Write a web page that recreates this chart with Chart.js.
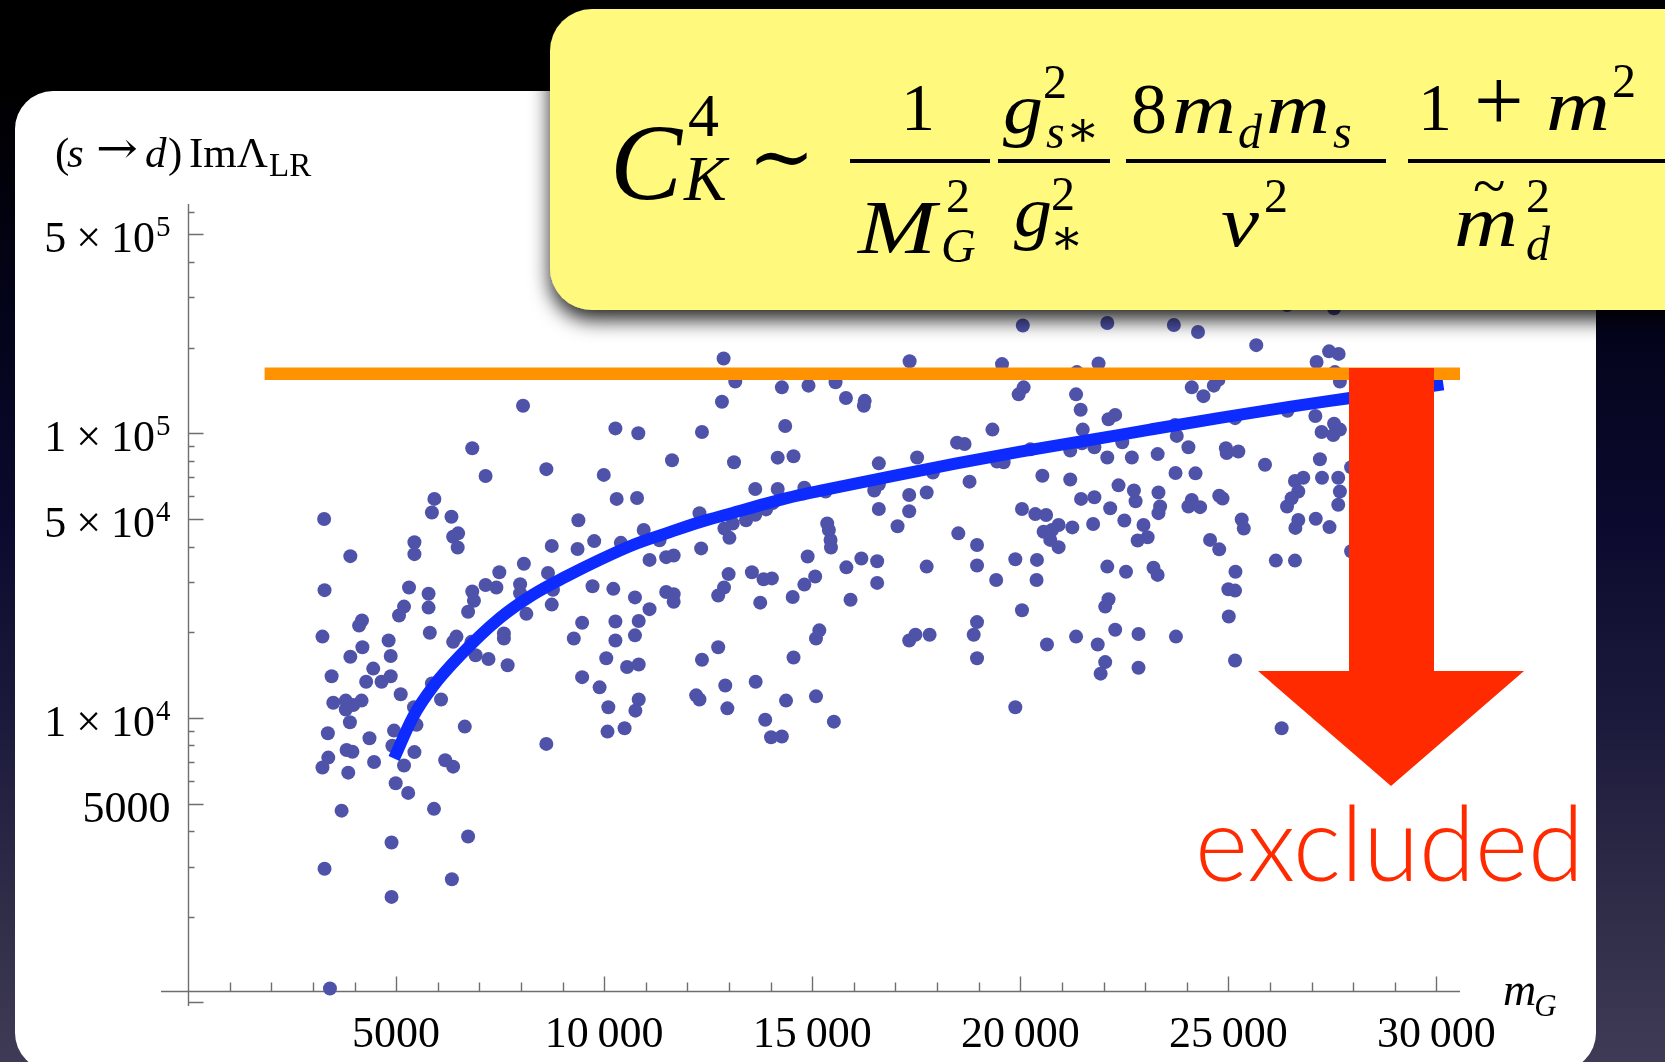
<!DOCTYPE html>
<html>
<head>
<meta charset="utf-8">
<script src="https://cdn.jsdelivr.net/npm/chart.js@4.4.1/dist/chart.umd.min.js"></script>
<style>
  html, body { margin: 0; padding: 0; }
  body {
    width: 1665px; height: 1062px; overflow: hidden; position: relative;
    background: linear-gradient(to bottom, #000 0px, #000 90px, #04041c 330px, #0b0a2e 520px, #1c1a3c 720px, #2f2c48 900px, #3f3b57 1062px);
  }
  #panel { position: absolute; left: 15px; top: 91px; width: 1581px; height: 980px; background: #fff; border-radius: 38px; }
  #c { position: absolute; left: 0; top: 0; }
  #ov { position: absolute; left: 0; top: 0; }
  #ov text { font-family: "Liberation Serif", "Times New Roman", serif; fill: #000; }
  #ov text.it { font-style: italic; }
  #ov text.sym { font-family: "DejaVu Serif", serif; }
  #ov text.gill { font-family: Lato, "Open Sans", sans-serif; font-weight: 300; fill: #ff2a00; }
</style>
</head>
<body>
<div id="panel"></div>
<canvas id="c" width="1665" height="1062"></canvas>
<svg id="ov" width="1665" height="1062" xmlns="http://www.w3.org/2000/svg">
  <defs>
    <filter id="sh" x="-5%" y="-20%" width="110%" height="160%">
      <feDropShadow dx="0" dy="10" stdDeviation="10" flood-color="#000" flood-opacity="0.85"/>
    </filter>
  </defs>
  <text x="55" y="167" font-size="43">(</text>
  <text class="it" x="67" y="167" font-size="43">s</text>
  <text class="sym" x="96" y="163" font-size="44" textLength="42" lengthAdjust="spacingAndGlyphs">→</text>
  <text class="it" x="145" y="167" font-size="43">d</text>
  <text x="168" y="167" font-size="43">)</text>
  <text x="189" y="167" font-size="43">ImΛ</text>
  <text x="269" y="176" font-size="33">LR</text>

  <rect x="550" y="9" width="1200" height="301" rx="42" fill="#fffa7d" filter="url(#sh)"/>

  <text class="it" x="610" y="199" font-size="108">C</text>
  <text x="688" y="136" font-size="62">4</text>
  <text class="it" x="684" y="200" font-size="64">K</text>
  <text class="sym" x="748" y="184" font-size="80">∼</text>

  <text x="918" y="130" font-size="68" text-anchor="middle">1</text>
  <rect x="850" y="159" width="140" height="4" fill="#000"/>
  <text class="it" x="858" y="253" font-size="76" textLength="78" lengthAdjust="spacingAndGlyphs">M</text>
  <text x="946" y="212" font-size="48">2</text>
  <text class="it" x="941" y="262" font-size="48">G</text>

  <text class="it" x="1003" y="133" font-size="72" textLength="40" lengthAdjust="spacingAndGlyphs">g</text>
  <text x="1043" y="98" font-size="48">2</text>
  <text class="it" x="1046" y="148" font-size="48">s</text>
  <text class="sym" x="1066" y="146" font-size="50">∗</text>
  <rect x="998" y="159" width="112" height="4" fill="#000"/>
  <text class="it" x="1014" y="236" font-size="72" textLength="38" lengthAdjust="spacingAndGlyphs">g</text>
  <text x="1051" y="210" font-size="48">2</text>
  <text class="sym" x="1050" y="254" font-size="50">∗</text>

  <text x="1131" y="133" font-size="72">8</text>
  <text class="it" x="1172" y="133" font-size="72" textLength="64" lengthAdjust="spacingAndGlyphs">m</text>
  <text class="it" x="1238" y="148" font-size="48">d</text>
  <text class="it" x="1266" y="133" font-size="72" textLength="64" lengthAdjust="spacingAndGlyphs">m</text>
  <text class="it" x="1333" y="148" font-size="48">s</text>
  <rect x="1126" y="159" width="260" height="4" fill="#000"/>
  <text class="it" x="1221" y="246" font-size="72" textLength="38" lengthAdjust="spacingAndGlyphs">v</text>
  <text x="1264" y="212" font-size="48">2</text>

  <text x="1418" y="130" font-size="68">1</text>
  <text x="1474" y="130" font-size="88">+</text>
  <text class="it" x="1546" y="130" font-size="72" textLength="64" lengthAdjust="spacingAndGlyphs">m</text>
  <text x="1612" y="97" font-size="48">2</text>
  <rect x="1408" y="159" width="280" height="4" fill="#000"/>
  <text class="it" x="1454" y="246" font-size="72" textLength="64" lengthAdjust="spacingAndGlyphs">m</text>
  <text x="1473" y="206" font-size="60">~</text>
  <text x="1526" y="212" font-size="48">2</text>
  <text class="it" x="1526" y="260" font-size="48">d</text>

  <polygon points="1349,368 1434,368 1434,671 1524,671 1391,786 1258,671 1349,671" fill="#ff2a00"/>
  <text class="gill" x="1195" y="881" font-size="104" textLength="389" lengthAdjust="spacingAndGlyphs">excluded</text>
</svg>

<script>
// scatter points: m_G and Im Lambda_LR (s -> d)
const mG = [
  12870, 13150, 14270, 14910, 12830, 8050, 10270, 10820, 12350, 14350,
  6830, 11630, 13120, 14170, 14550, 7150, 8610, 9990, 5920, 5860,
  6330, 3270, 10300, 10790, 13630, 14170, 14810, 9380, 12290,
  12890, 13090, 13410, 13630, 13890, 14050, 13010,
  6490, 6370, 6480, 5440, 5440, 3900, 10950, 10400, 9760, 9360, 8740, 11330, 12330, 11090, 11490, 11670, 14890,
  8070, 7480, 8650, 7150, 7410, 7980, 7980, 6830, 6870, 6730, 8130, 8740, 8770, 9720, 10220, 10740, 11090, 11490, 11670, 11670, 12990, 12880, 12740, 13550, 13830, 14030, 13750, 14530, 14810, 15070,
  3280, 5310, 5780, 5780, 5190, 5070, 4180, 4110, 3230, 4820, 5810, 6450, 6370, 7590, 7590, 9470, 9270, 10270, 10270, 10830, 10740, 4190, 12740, 15090, 15170, 6810,
  3900, 4870, 4450, 3450, 4280, 4650, 4870, 5110, 3490, 3790, 3970, 4170, 3790, 3890, 3360, 4360, 4950, 4910, 5430, 5490, 5860, 6080, 6650, 6910, 7220, 7680,
  3810, 3950, 3370, 3230, 4470, 3850, 5440, 5190, 6180, 6370, 4990, 5290, 3690, 5910, 6730, 4890, 3280, 6340, 4890, 3410,
  8610, 10050, 10550, 10830, 9470, 9890, 10830, 10750, 10100, 10080, 10490, 12350, 12210, 12290, 12910, 12960, 13640, 14370, 13870, 14010, 14270, 14550, 15090,
  18960, 22040, 21930, 22840, 25160, 19880, 15520, 26280,
  20060, 22090, 23690, 24270, 25670, 26410, 27540, 27420, 27650, 27120, 27560,
  17340, 19560, 21880, 21360, 15560, 15810, 16260, 16240, 20080, 19960, 21340, 21450, 24120, 24650, 24400, 24760, 27680,
  22280, 22120, 25160, 26420, 27090, 27540, 27240, 27520, 27680, 23720, 23760, 21500, 19330, 18480, 18660, 20240, 21200, 21480, 21780, 22450, 22090, 22680, 23300, 24040, 24940, 25240, 24960, 25880, 27200,
  16600, 17520, 17900, 19440, 19600, 15320, 16600, 16490, 17330, 17750, 18780, 20530, 21200, 23730, 24210, 27250, 26600, 26800, 27640, 22360, 22730, 22770, 23320, 21460, 21780, 22160, 23360, 23320, 24040, 24120, 24320, 24780, 24860, 26680, 26520, 26410, 27680, 27640,
  16600, 17330, 20040, 20360, 20620, 20920, 20760, 20560, 20720, 20920, 21250, 21750, 22500, 22960, 23060, 22820, 25320, 25370, 26680, 26610, 27100, 27430, 15360, 15400, 15440, 15450, 17050, 18510, 18960, 24560, 24780,
  16180, 16560, 15820, 16560, 17750, 18960, 19880, 20400, 20390, 19420, 22090, 22540, 23200, 23300, 25170, 26140, 26600, 25000, 25160, 25010, 15920, 20040, 22120, 22040, 18960, 18880, 17480, 17330, 17820, 21340, 20640, 21860, 22280, 22840, 23740,
  27950, 27950
];
const imLambda = [
  183000, 152000, 145000, 147000, 129000, 125000, 104000, 100000, 101000, 106000,
  88600, 80400, 79100, 82100, 83000, 70800, 74800, 71400, 58800, 52700,
  50900, 50000, 58800, 59200, 63700, 63700, 64400, 49500, 52400,
  46300, 48200, 49500, 51700, 54000, 56800, 42900,
  44500, 43300, 39700, 41400, 37600, 37000, 45700, 41200, 41800, 39200, 40200, 42100, 39400, 35900, 36700, 37200, 36900,
  34800, 32500, 32300, 29300, 28700, 29500, 27400, 27800, 25800, 23600, 23200, 25000, 28200, 29000, 28400, 26500, 24100, 27700, 27200, 25600, 32000, 28700, 26900, 32500, 30700, 30900, 25400, 26600, 29400, 31400,
  28100, 28700, 27300, 24400, 24600, 22900, 22000, 21100, 19300, 18700, 19900, 19300, 18500, 19800, 19000, 21600, 19000, 21800, 18700, 21900, 19500, 17700, 17700, 19000, 20300, 18500,
  16400, 16500, 14900, 14000, 13400, 13400, 14000, 12100, 11300, 11500, 11100, 11500, 10700, 9650, 8830, 8480, 9020, 7980, 10900, 9450, 13200, 11600, 9320, 16600, 16100, 15300,
  7710, 7600, 7250, 6690, 7000, 6420, 7580, 6800, 7100, 6740, 5890, 5450, 4720, 4790, 3830, 3650, 2950, 2710, 2350, 1120,
  8100, 16200, 15100, 15400, 13900, 12800, 11600, 10600, 10900, 8950, 9200, 16000, 12000, 11600, 13000, 10800, 13400, 11500, 9850, 8550, 8600, 16300, 11900,
  16200, 15700, 14300, 15000, 15900, 10900, 9700, 9200,
  239000, 244000, 240000, 227000, 204000, 282000, 275000, 194000, 190000, 178000, 164000,
  179000, 175000, 176000, 164000, 151000, 133000, 130000, 125000, 145000, 137000, 137000, 121000, 145000, 147000, 135000, 154000, 152000,
  116000, 112000, 113000, 120000, 115000, 108000, 101000, 98600, 103000, 107000, 97900, 103000, 103000, 92700, 91700, 87800, 86900, 92200, 89300, 93000, 82200, 82200, 84500, 89300, 88600, 86300, 85200, 77500, 81000,
  78400, 82200, 72800, 79500, 79100, 62400, 66200, 62900, 60700, 61900, 67600, 70900, 68800, 72500, 72300, 69800, 68000, 69800, 69800, 65600, 62900, 57700, 61900, 58800, 59600, 54500, 55300, 52400, 55300, 58300, 55000, 60300, 59000, 62400, 59100, 55300, 62400, 56100,
  54200, 53200, 54200, 52000, 51600, 47600, 45700, 45100, 42200, 39800, 46700, 48000, 49400, 47600, 43100, 42000, 49800, 46300, 49600, 46500, 50100, 46800, 48200, 45700, 42200, 39700, 47100, 44500, 40500, 42200, 39100,
  36300, 35500, 33800, 29800, 34000, 34300, 36100, 35900, 30500, 30500, 34000, 32600, 33700, 31800, 32600, 35700, 35700, 28300, 28000, 22700, 26000, 23900, 26100, 24600, 21700, 19600, 19600, 18700, 19600, 19300, 18100, 18100, 20400, 19700, 19300,
  76000, 38500
];

// fitted curve (blue)
const curveMG = [4950, 5410, 5890, 6530, 7490, 8290, 9090, 9890, 10690, 11490, 12290, 13090, 13890, 14690, 15235, 16835, 18435, 20000, 21635, 23117, 24835, 26500, 27843, 30166];
const curveIm = [7200, 10100, 12900, 16500, 22400, 27100, 31400, 35900, 40500, 44500, 48700, 52500, 56600, 60600, 63000, 70300, 78200, 86200, 94500, 103000, 113500, 124000, 132500, 148600];

// bound (orange)
const boundMG = [1840, 30690];
const boundIm = [162000, 162000];

// axes
const xMin = -650, xMax = 30566;
const yMin = 972, yMax = 639000;
const xAxisCrossing = 1100;
const xTickValues = [5000, 10000, 15000, 20000, 25000, 30000];
const xTickLabels = ['5000', '10\u2009000', '15\u2009000', '20\u2009000', '25\u2009000', '30\u2009000'];
const xMinorTicks = [1000, 2000, 3000, 4000, 5000, 6000, 7000, 8000, 9000, 10000, 11000, 12000, 13000, 14000, 15000,
  16000, 17000, 18000, 19000, 20000, 21000, 22000, 23000, 24000, 25000, 26000, 27000, 28000, 29000, 30000];
const yTickValues = [5000, 10000, 50000, 100000, 500000];
const yTickLabels = ['5000', '1×10^4', '5×10^4', '1×10^5', '5×10^5'];
const yMajorTicks = [1000, 5000, 10000, 50000, 100000, 500000];
const yMinorTicks = [1000, 2000, 3000, 4000, 5000, 6000, 7000, 8000, 9000,
  10000, 20000, 30000, 40000, 50000, 60000, 70000, 80000, 90000,
  100000, 200000, 300000, 400000, 500000, 600000];

const serif = '"Liberation Serif", "Times New Roman", serif';

const mmaAxes = {
  id: 'mmaAxes',
  beforeDatasetsDraw(chart) {
    const { ctx, chartArea: a } = chart;
    const xs = chart.scales.x, ys = chart.scales.y;
    const ax = Math.round(xs.getPixelForValue(0)) + 0.5;
    const ay = Math.round(ys.getPixelForValue(xAxisCrossing)) + 0.5;
    ctx.save();
    ctx.strokeStyle = '#6e6e6e';
    ctx.lineWidth = 1.4;
    ctx.beginPath();
    ctx.moveTo(a.left, ay); ctx.lineTo(a.right, ay);
    ctx.moveTo(ax, a.top); ctx.lineTo(ax, a.bottom);
    yMinorTicks.forEach(v => {
      const py = Math.round(ys.getPixelForValue(v)) + 0.5;
      const len = yMajorTicks.includes(v) ? 15 : 6;
      ctx.moveTo(ax, py); ctx.lineTo(ax + len, py);
    });
    xMinorTicks.forEach(v => {
      const px = Math.round(xs.getPixelForValue(v)) + 0.5;
      const len = xTickValues.includes(v) ? 15 : 9;
      ctx.moveTo(px, ay); ctx.lineTo(px, ay - len);
    });
    ctx.stroke();

    ctx.fillStyle = '#000';
    ctx.textBaseline = 'alphabetic';
    ctx.font = '44px ' + serif;
    ctx.textAlign = 'center';
    xTickValues.forEach((v, i) => ctx.fillText(xTickLabels[i], xs.getPixelForValue(v), ay + 55));

    ctx.textAlign = 'right';
    const right = ax - 18;
    yTickValues.forEach((v, i) => {
      const py = ys.getPixelForValue(v);
      const parts = yTickLabels[i].split('^');
      if (parts.length === 1) {
        ctx.font = '44px ' + serif;
        ctx.fillText(parts[0], right, py + 18);
        return;
      }
      ctx.font = '29px ' + serif;
      ctx.fillText(parts[1], right, py + 2);
      let r = right - ctx.measureText(parts[1]).width - 1;
      ctx.font = '44px ' + serif;
      const [mant, ten] = parts[0].split('×');
      ctx.fillText(ten, r, py + 18);
      r -= ctx.measureText(ten).width + 10;
      ctx.fillText('×', r, py + 18);
      r -= ctx.measureText('×').width + 10;
      ctx.fillText(mant, r, py + 18);
    });

    ctx.textAlign = 'left';
    ctx.font = 'italic 46px ' + serif;
    ctx.fillText('m', a.right + 43, ay + 13);
    const mw = ctx.measureText('m').width;
    ctx.font = 'italic 31px ' + serif;
    ctx.fillText('G', a.right + 43 + mw - 2, ay + 24);
    ctx.restore();
  }
};

new Chart(document.getElementById('c').getContext('2d'), {
  type: 'scatter',
  data: {
    datasets: [
      {
        type: 'line',
        data: boundMG.map((x, i) => ({ x, y: boundIm[i] })),
        borderColor: '#ff9200',
        borderWidth: 12.5,
        pointRadius: 0,
        borderCapStyle: 'butt',
        order: 1
      },
      {
        type: 'line',
        data: curveMG.map((x, i) => ({ x, y: curveIm[i] })),
        borderColor: '#0d2bff',
        borderWidth: 12,
        pointRadius: 0,
        cubicInterpolationMode: 'monotone',
        borderCapStyle: 'butt',
        order: 2
      },
      {
        data: mG.map((x, i) => ({ x, y: imLambda[i] })),
        backgroundColor: '#4e53a9',
        borderWidth: 0,
        pointRadius: 7,
        order: 3
      }
    ]
  },
  options: {
    responsive: false,
    animation: false,
    events: [],
    layout: { padding: { left: 161, right: 205, top: 204, bottom: 56 } },
    scales: {
      x: { type: 'linear', min: xMin, max: xMax, display: false },
      y: { type: 'logarithmic', min: yMin, max: yMax, display: false }
    },
    plugins: { legend: { display: false }, tooltip: { enabled: false } }
  },
  plugins: [mmaAxes]
});
</script>
</body>
</html>
